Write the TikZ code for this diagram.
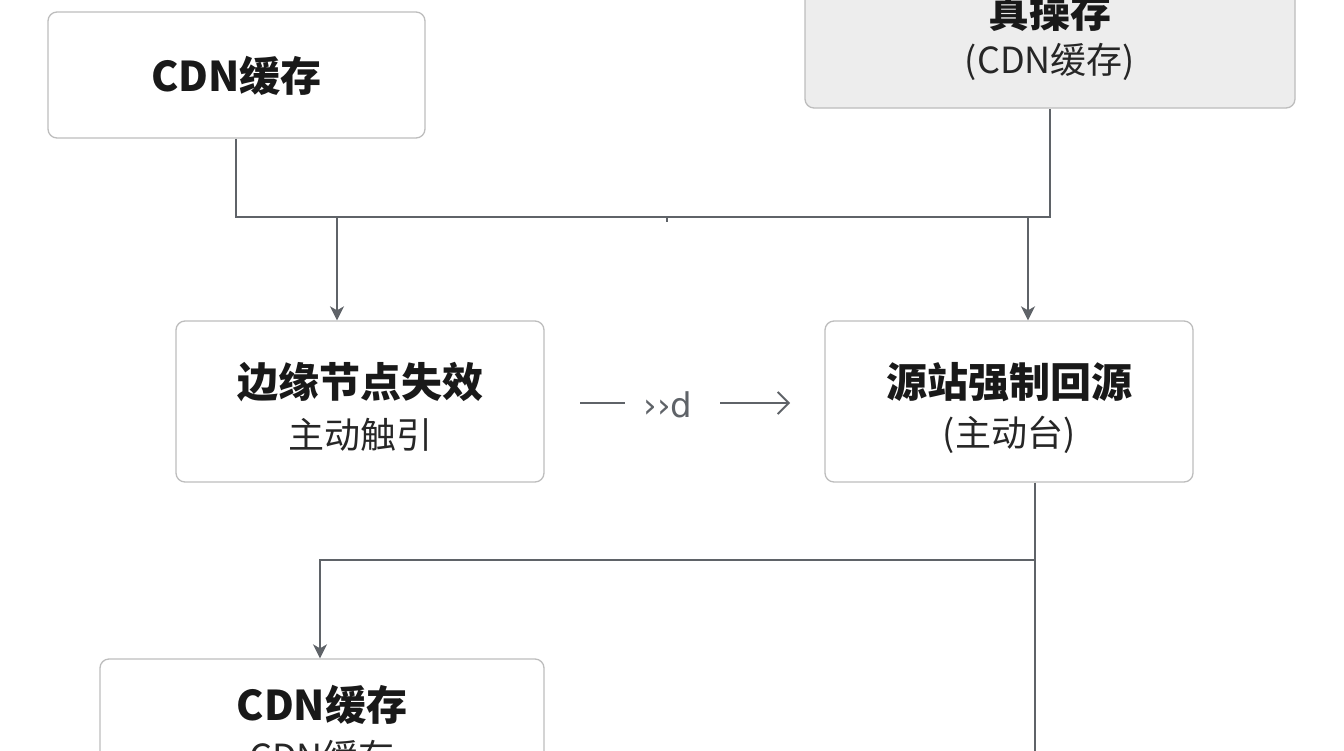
\documentclass[tikz,border=0pt]{standalone}
\usepackage{fontspec}
\setmainfont{Noto Sans CJK SC}
\newfontfamily\dv{DejaVu Sans}
\usetikzlibrary{arrows.meta}
\definecolor{ln}{HTML}{5F6368}
\definecolor{bd}{HTML}{BDBDBD}
\tikzset{
 box/.style={draw=bd,line width=1.3pt,rounded corners=9pt,fill=white},
 ttl/.style={font=\fontsize{41}{44}\selectfont\bfseries,text=black!90},
 sub/.style={font=\fontsize{36}{40}\selectfont,text=black!85},
 con/.style={draw=ln,line width=2pt},
 arr/.style={con,-{Stealth[length=14pt,width=14pt,inset=4pt]}},
}
\begin{document}
\begin{tikzpicture}[x=1pt,y=-1pt]
\useasboundingbox (0,0) rectangle (1344,750);
\fill[white] (0,0) rectangle (1344,750);
% boxes
\node[box,minimum width=377pt,minimum height=126pt] (A) at (236.5,75) {};
\node[ttl] at (236.5,76) {CDN缓存};
\node[box,fill=black!7,minimum width=490pt,minimum height=130pt] (B) at (1050,43) {};
\node[ttl] at (1050,12) {真操存};
\node[sub] at (1050,62) {(CDN缓存)};
\node[box,minimum width=368pt,minimum height=161pt] (C) at (360,401.5) {};
\node[ttl] at (360,382) {边缘节点失效};
\node[sub] at (360,435) {主动触引};
\node[box,minimum width=368pt,minimum height=161pt] (D) at (1009,401.5) {};
\node[ttl] at (1009,382) {源站强制回源};
\node[sub] at (1009,435) {(主动台)};
\node[box,minimum width=444pt,minimum height=140pt] (E) at (322,729) {};
\node[ttl] at (322,705) {CDN缓存};
\node[sub] at (322,757) {CDN缓存};
% connectors
\coordinate (j1) at (236,217);
\coordinate (j2) at (1050,217);
\draw[con] (A.south -| j1) -- (j1) -- (j2) -- (B.south -| j2);
\draw[con,line width=1.5pt] (667,217) -- (667,222);
\draw[arr] (337,217) -- (C.north -| 337,0);
\draw[arr] (1028,217) -- (D.north -| 1028,0);
\coordinate (m1) at (580,403);
\coordinate (m2) at (625,403);
\draw[con,line width=1.8pt] (m1) -- (m2);
\node[font=\dv\fontsize{34}{34}\selectfont,text=ln] (lab) at (668,405) {››d};
\coordinate (m3) at (720,403);
\coordinate (m4) at (790,403);
\draw[con,line width=1.8pt,-{Straight Barb[length=11pt,width=22pt,line width=1.8pt]}] (m3) -- (m4);
\coordinate (j3) at (1035,560);
\coordinate (j4) at (320,560);
\draw[con] (D.south -| j3) -- (1035,760);
\draw[arr] (j3) -- (j4) -- (E.north -| j4);
\end{tikzpicture}
\end{document}
